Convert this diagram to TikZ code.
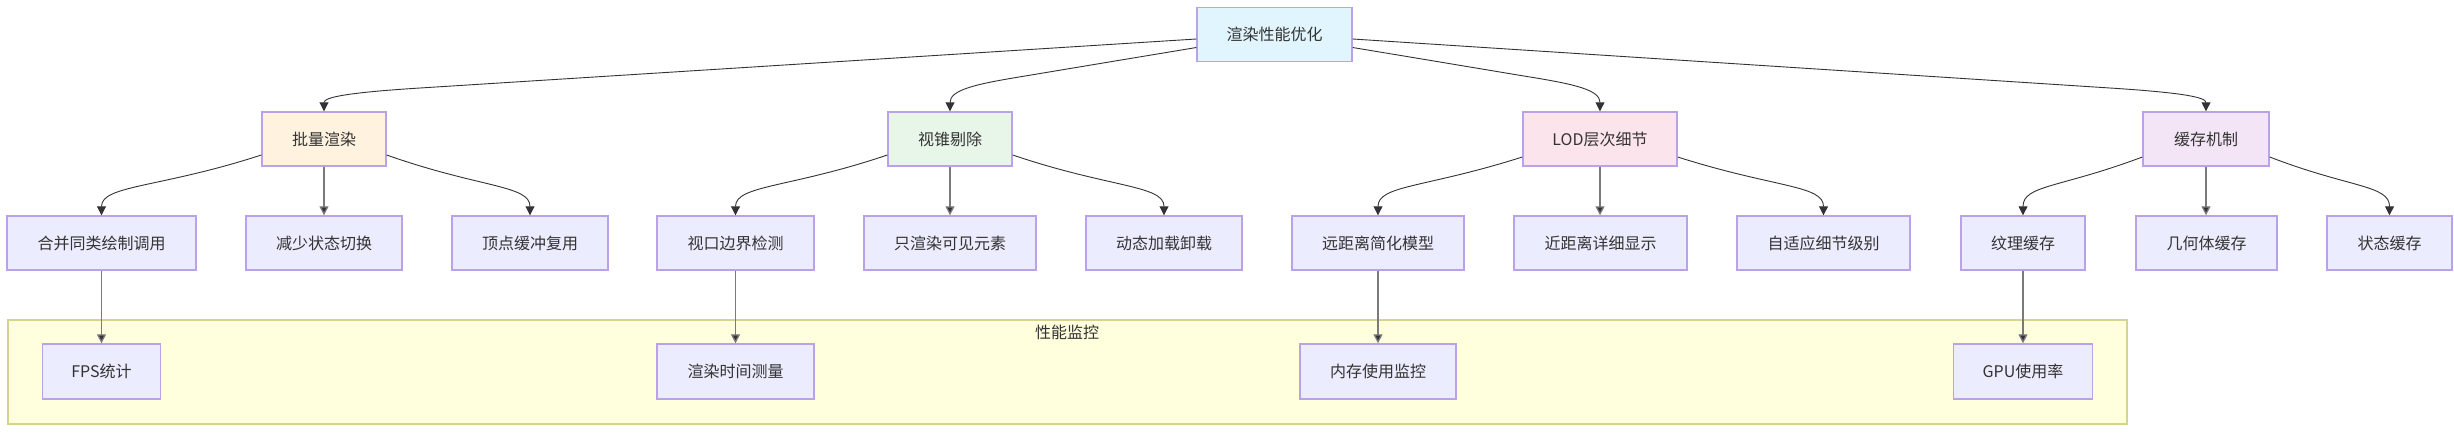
\documentclass[tikz,border=0pt]{standalone}
\usepackage{fontspec}
\newfontfamily\cjk{Noto Sans CJK SC}
\usetikzlibrary{arrows.meta,calc}
\definecolor{nodefill}{HTML}{ECECFF}
\definecolor{nodestroke}{HTML}{B9A2EA}
\definecolor{rootfill}{HTML}{E1F5FE}
\definecolor{batchfill}{HTML}{FFF3E0}
\definecolor{cullfill}{HTML}{E8F5E9}
\definecolor{lodfill}{HTML}{FCE4EC}
\definecolor{cachefill}{HTML}{F3E5F5}
\definecolor{clusterfill}{HTML}{FFFFDE}
\definecolor{clusterstroke}{HTML}{D4D48A}
\definecolor{edgecol}{HTML}{333333}
\definecolor{vertcol}{HTML}{7A7A7A}
\definecolor{textcol}{HTML}{333333}
\begin{document}
\begin{tikzpicture}[x=1pt,y=-1pt,
  box/.style={draw=nodestroke, line width=1.4pt, fill=nodefill, minimum height=54pt, inner sep=0pt,
    font=\cjk\fontsize{16}{19}\selectfont, text=textcol},
  conn/.style={draw=edgecol, line width=0.9pt, -{Triangle[length=9pt,width=9pt]}},
  vconn/.style={conn, draw=vertcol, line width=1.3pt, -{Triangle[length=9pt,width=9pt,fill=edgecol]}},
  clusterbox/.style={draw=clusterstroke, line width=1.5pt, fill=clusterfill},
  clusterlabel/.style={font=\cjk\fontsize{16}{19}\selectfont, text=textcol, inner sep=0pt}]
\useasboundingbox (0,0) rectangle (2454,432);
% cluster
\draw[clusterbox] (8,320) rectangle (2127,424);
\node[clusterlabel] (cl) at (1067,332) {性能监控};
% root
\node[box, fill=rootfill, minimum width=155pt] (root) at (1274.5,34.5) {渲染性能优化};
% level 2
\node[box, fill=batchfill, minimum width=124pt] (b1) at (324,139) {批量渲染};
\node[box, fill=cullfill, minimum width=124pt] (b2) at (950,139) {视锥剔除};
\node[box, fill=lodfill, minimum width=154pt] (b3) at (1600,139) {LOD层次细节};
\node[box, fill=cachefill, minimum width=126pt] (b4) at (2206,139) {缓存机制};
% level 3
\node[box, minimum width=189pt] (c1) at (101.5,243) {合并同类绘制调用};
\node[box, minimum width=156pt] (c2) at (324,243) {减少状态切换};
\node[box, minimum width=156pt] (c3) at (530,243) {顶点缓冲复用};
\node[box, minimum width=157pt] (c4) at (735.5,243) {视口边界检测};
\node[box, minimum width=172pt] (c5) at (950,243) {只渲染可见元素};
\node[box, minimum width=156pt] (c6) at (1164,243) {动态加载卸载};
\node[box, minimum width=172pt] (c7) at (1378,243) {远距离简化模型};
\node[box, minimum width=173pt] (c8) at (1600.5,243) {近距离详细显示};
\node[box, minimum width=173pt] (c9) at (1823.5,243) {自适应细节级别};
\node[box, minimum width=124pt] (c10) at (2023,243) {纹理缓存};
\node[box, minimum width=141pt] (c11) at (2206.5,243) {几何体缓存};
\node[box, minimum width=125pt] (c12) at (2389.5,243) {状态缓存};
% level 4
\node[box, minimum width=118pt, minimum height=55pt] (d1) at (101.5,371.5) {FPS统计};
\node[box, minimum width=157pt, minimum height=55pt] (d2) at (735.5,371.5) {渲染时间测量};
\node[box, minimum width=156pt, minimum height=55pt] (d3) at (1378,371.5) {内存使用监控};
\node[box, minimum width=139pt, minimum height=55pt] (d4) at (2023,371.5) {GPU使用率};
% root edges
\draw[conn] ($(root.west)+(0,4.5)$) -- (420,88) .. controls (350,92.4) and (324,97) .. (b1.north);
\draw[conn] ($(root.west)+(0,13)$) -- (1019,77) .. controls (975,84.3) and (950,90) .. (b2.north);
\draw[conn] ($(root.east)+(0,13)$) -- (1530,77) .. controls (1575,84.3) and (1600,90) .. (b3.north);
\draw[conn] ($(root.east)+(0,4.5)$) -- (2110,88) .. controls (2180,92.5) and (2206,97) .. (b4.north);
% level 2 -> 3
\draw[conn] ($(b1.west)+(0,16)$) .. controls (160,188) and (101.5,185) .. (c1.north);
\draw[vconn] (b1.south) -- (c2.north);
\draw[conn] ($(b1.east)+(0,16)$) .. controls (480,188) and (530,185) .. (c3.north);
\draw[conn] ($(b2.west)+(0,16)$) .. controls (790,188) and (735.5,185) .. (c4.north);
\draw[vconn] (b2.south) -- (c5.north);
\draw[conn] ($(b2.east)+(0,16)$) .. controls (1110,188) and (1164,185) .. (c6.north);
\draw[conn] ($(b3.west)+(0,18)$) .. controls (1425,188) and (1378,185) .. (c7.north);
\draw[vconn] (b3.south) -- (b3.south |- c8.north);
\draw[conn] ($(b3.east)+(0,18)$) .. controls (1775,188) and (1823.5,185) .. (c9.north);
\draw[conn] ($(b4.west)+(0,18)$) .. controls (2060,188) and (2023,185) .. (c10.north);
\draw[vconn] (b4.south) -- (b4.south |- c11.north);
\draw[conn] ($(b4.east)+(0,18)$) .. controls (2350,188) and (2389.5,185) .. (c12.north);
% level 3 -> 4
\draw[vconn] (c1.south) -- (c1.south |- d1.north);
\draw[vconn] (c4.south) -- (c4.south |- d2.north);
\draw[vconn] (c7.south) -- (c7.south |- d3.north);
\draw[vconn] (c10.south) -- (c10.south |- d4.north);
\end{tikzpicture}
\end{document}
